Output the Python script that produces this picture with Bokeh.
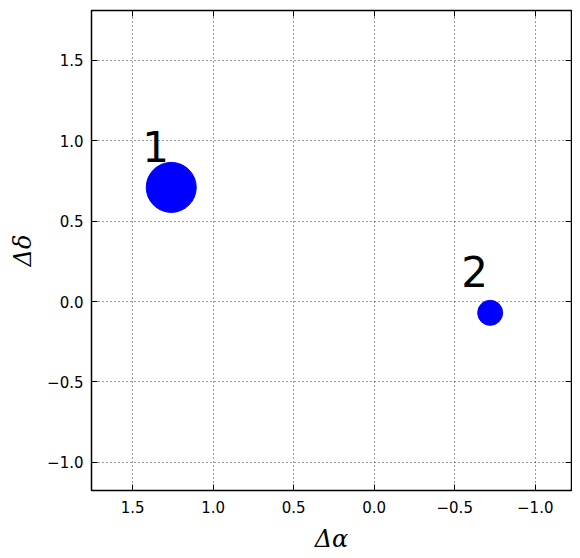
from bokeh.plotting import figure, ColumnDataSource
from bokeh.models import Range1d, FixedTicker, CustomJSTickFormatter, LinearAxis
from bokeh.core.properties import value
from bokeh.embed import file_html
from bokeh.resources import INLINE

# data
delta_alpha = [1.26, -0.72]
delta_delta = [0.71, -0.07]
labels = ["1", "2"]
relative_flux = [1.0, 0.5]
x_ticks = [1.5, 1.0, 0.5, 0.0, -0.5, -1.0]
y_ticks = [-1.0, -0.5, 0.0, 0.5, 1.0, 1.5]

src = ColumnDataSource(dict(
    x=delta_alpha, y=delta_delta, label=labels,
    size=[50 * f for f in relative_flux],
))

p = figure(frame_width=480, frame_height=480,
           x_range=Range1d(1.755, -1.225), y_range=Range1d(-1.175, 1.81),
           output_backend="svg", toolbar_location=None,
           min_border_left=91, min_border_top=10, min_border_right=1, min_border_bottom=60,
           x_axis_label="Δα", y_axis_label="Δδ")

fmt = CustomJSTickFormatter(code="return tick.toFixed(1).replace('-', '\u2212');")

for ax, ticks in ((p.xaxis[0], x_ticks), (p.yaxis[0], y_ticks)):
    ax.ticker = FixedTicker(ticks=ticks)
    ax.formatter = fmt
    ax.major_label_text_font = "DejaVu Sans"
    ax.major_label_text_font_size = "15px"
    ax.major_label_text_color = "black"
    ax.major_tick_in = 6
    ax.major_tick_out = 0
    ax.major_tick_line_color = "black"
    ax.minor_tick_line_color = None
    ax.axis_line_color = "black"
    ax.axis_label_text_font = "DejaVu Serif"
    ax.axis_label_text_font_style = "italic"
    ax.axis_label_text_font_size = "24px"
    ax.axis_label_text_color = "black"

p.xaxis[0].major_label_standoff = 10
p.yaxis[0].major_label_standoff = 8
p.xaxis[0].axis_label_standoff = 9
p.yaxis[0].axis_label_standoff = 7

blank = CustomJSTickFormatter(code="return '';")
for loc, ticks in (("above", x_ticks), ("right", y_ticks)):
    ax = LinearAxis(ticker=FixedTicker(ticks=ticks), formatter=blank,
                    major_label_text_font_size="1px",
                    major_label_standoff=0, major_tick_in=6, major_tick_out=0,
                    minor_tick_line_color=None, axis_line_color=None,
                    major_tick_line_color="black")
    p.add_layout(ax, loc)

p.xgrid.ticker = FixedTicker(ticks=x_ticks)
p.ygrid.ticker = FixedTicker(ticks=y_ticks)
p.grid.grid_line_color = "black"
p.grid.grid_line_dash = "1 3"
p.grid.grid_line_width = 1
p.grid.grid_line_alpha = 0.8

p.outline_line_color = "black"
p.outline_line_width = 1.5
p.outline_line_alpha = 1

p.scatter(x="x", y="y", size="size", source=src, fill_color="#0000ff", line_color="#0000ff")
p.text(x="x", y="y", text="label", source=src, x_offset=-29, y_offset=-41,
       text_font=value("DejaVu Sans"), text_font_size="42px",
       text_baseline="alphabetic", text_align="left", text_color="black")

open("out.html", "w").write(file_html(p, INLINE))
